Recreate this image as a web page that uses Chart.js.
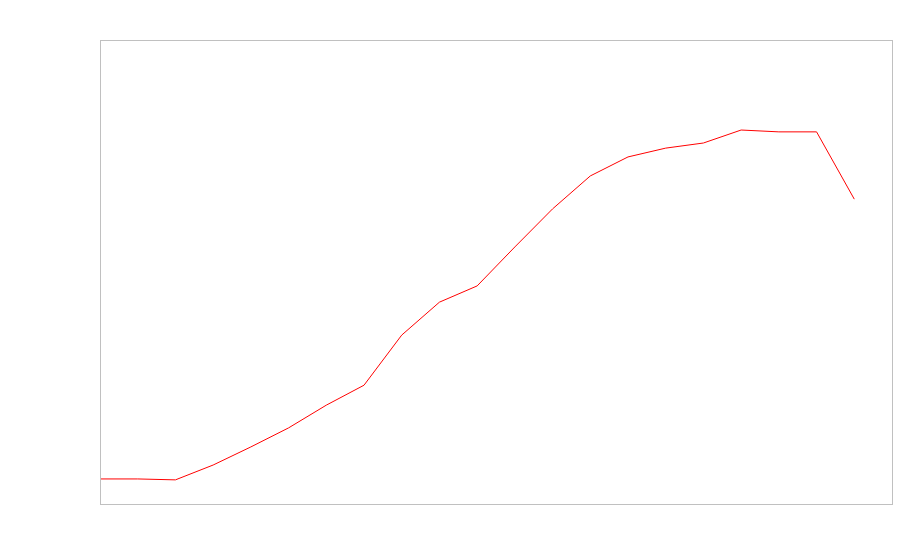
<!DOCTYPE html>
<html>
<head>
<meta charset="utf-8">
<script src="https://cdn.jsdelivr.net/npm/chart.js@4"></script>
<style>
  html, body { margin: 0; padding: 0; background: #fff; }
  canvas { display: block; }
</style>
</head>
<body>
<canvas id="chart" width="900" height="560"></canvas>
<script>
// Data (no labels shown, so values on a 0-100 scale)
const steps = [0, 1, 2, 3, 4, 5, 6, 7, 8, 9, 10, 11, 12, 13, 14, 15, 16, 17, 18, 19, 20];
const values = [5.4, 5.4, 5.2, 8.4, 12.3, 16.4, 21.3, 25.6, 36.4, 43.5, 47.0,
                55.4, 63.6, 70.7, 74.8, 76.7, 77.8, 80.6, 80.2, 80.2, 65.7];
const xMax = 21;
const yMin = 0;
const yMax = 100;

// Draw a thin frame round the plot area
const frame = {
    id: 'frame',
    afterDraw(chart) {
        const a = chart.chartArea;
        const ctx = chart.ctx;
        ctx.save();
        ctx.strokeStyle = '#c0c0c0';
        ctx.lineWidth = 1;
        ctx.strokeRect(a.left + 0.5, a.top + 0.5, a.right - a.left, a.bottom - a.top);
        ctx.restore();
    }
};

document.addEventListener('DOMContentLoaded', function() {
    new Chart(document.getElementById('chart'), {
        type: 'line',
        data: {
            datasets: [{
                data: steps.map((s, i) => ({ x: s, y: values[i] })),
                borderColor: '#ff0000',
                borderWidth: 1,
                pointRadius: 0,
                tension: 0,
                fill: false
            }]
        },
        options: {
            responsive: false,
            animation: false,
            layout: { padding: { left: 92, top: 40, right: 8, bottom: 48 } },
            plugins: {
                legend: { display: false },
                tooltip: { enabled: false }
            },
            scales: {
                x: {
                    type: 'linear',
                    min: 0,
                    max: xMax,
                    ticks: { display: false },
                    grid: { display: false },
                    border: { display: false }
                },
                y: {
                    min: yMin,
                    max: yMax,
                    ticks: { display: false },
                    grid: { display: false },
                    border: { display: false }
                }
            }
        },
        plugins: [frame]
    });
});
</script>
</body>
</html>
